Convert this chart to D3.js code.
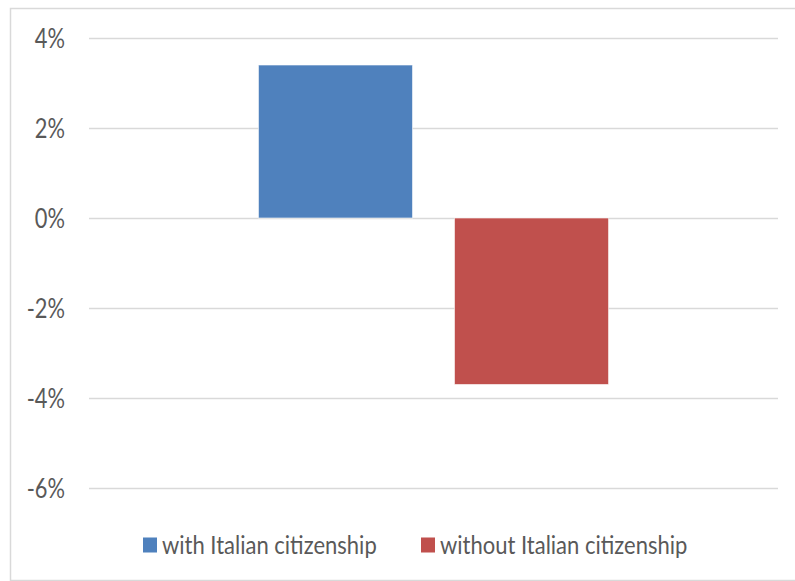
<!DOCTYPE html>
<html>
<head>
<meta charset="utf-8">
<script src="https://cdn.jsdelivr.net/npm/d3@7"></script>
<style>
  body { margin: 0; background: #fff; }
  text { font-family: Lato, "Open Sans", sans-serif; fill: #595959; }
</style>
</head>
<body>
<div id="chart"></div>
<script>

// chart data
var categories = [''];
var series_names = ['with Italian citizenship', 'without Italian citizenship'];
var series_values = [3.4, -3.7];
var series_colors = ['#4f81bd', '#c0504d'];
var y_ticks = [-6, -4, -2, 0, 2, 4];

var width = 795;
var height = 581;

// horizontal squeeze of the text, the picture uses a narrow face
var tick_squeeze = 0.84;
var legend_squeeze = 0.88;

var plot = {left: 89, right: 778, top: 38, bottom: 488};

var svg = d3.select('#chart')
  .append('svg')
  .attr('width', width)
  .attr('height', height);

svg.append('rect')
  .attr('width', width)
  .attr('height', height)
  .style('fill', 'white');

// outer chart frame (cut off on the right and bottom)
svg.append('rect')
  .attr('x', 10.5)
  .attr('y', 8.5)
  .attr('width', width + 20)
  .attr('height', 572)
  .style('fill', 'none')
  .style('stroke', '#d9d9d9')
  .style('stroke-width', 1.5);

var y = d3.scaleLinear()
  .domain([-6, 4])
  .range([plot.bottom, plot.top]);

var x0 = d3.scaleBand()
  .domain(categories)
  .range([plot.left, plot.right])
  .paddingOuter(0.484);

var x1 = d3.scaleBand()
  .domain(series_names)
  .range([0, x0.bandwidth()])
  .paddingInner(0.214);

// gridlines
var y_axis = d3.axisLeft(y)
  .tickValues(y_ticks)
  .tickSize(-(plot.right - plot.left))
  .tickPadding(24)
  .tickFormat(function(d){ return d + '%'; });

var axis_g = svg.append('g')
  .attr('transform', 'translate(' + plot.left + ',0)')
  .call(y_axis);

axis_g.select('.domain').remove();
axis_g.selectAll('.tick line')
  .style('stroke', '#d9d9d9')
  .style('stroke-width', 1.5);
axis_g.selectAll('.tick text')
  .style('font-size', '26px')
  .style('fill', '#595959')
  .style('font-family', 'Lato, "Open Sans", sans-serif')
  .attr('dy', '0.35em');

// bars
var bar_data = series_names.map(function(name, i){
  return {name: name, value: series_values[i], color: series_colors[i]};
});

svg.append('g')
  .selectAll('rect')
  .data(bar_data)
  .enter()
  .append('rect')
  .attr('x', function(d){ return x0(categories[0]) + x1(d.name); })
  .attr('width', x1.bandwidth())
  .attr('y', function(d){ return y(Math.max(0, d.value)); })
  .attr('height', function(d){ return Math.abs(y(d.value) - y(0)); })
  .style('fill', function(d){ return d.color; })
  .style('stroke', 'rgba(255,255,255,0.6)')
  .style('stroke-width', 1);

// legend
var legend_pos = [143, 421];
var legend = svg.append('g')
  .selectAll('g')
  .data(bar_data)
  .enter()
  .append('g')
  .attr('transform', function(d, i){ return 'translate(' + legend_pos[i] + ',545)'; });

legend.append('rect')
  .attr('x', 0)
  .attr('y', -7.5)
  .attr('width', 14)
  .attr('height', 15)
  .style('fill', function(d){ return d.color; });

legend.append('text')
  .classed('legend-text', true)
  .attr('x', 19)
  .attr('dy', '0.35em')
  .style('font-size', '25px')
  .text(function(d){ return d.name; });

// squeeze every label horizontally
function squeeze_text(sel, k){
  sel.each(function(){
    var len = this.getComputedTextLength();
    d3.select(this)
      .attr('textLength', len * k)
      .attr('lengthAdjust', 'spacingAndGlyphs');
  });
}
squeeze_text(axis_g.selectAll('text'), tick_squeeze);
squeeze_text(svg.selectAll('.legend-text'), legend_squeeze);

</script>
</body>
</html>
